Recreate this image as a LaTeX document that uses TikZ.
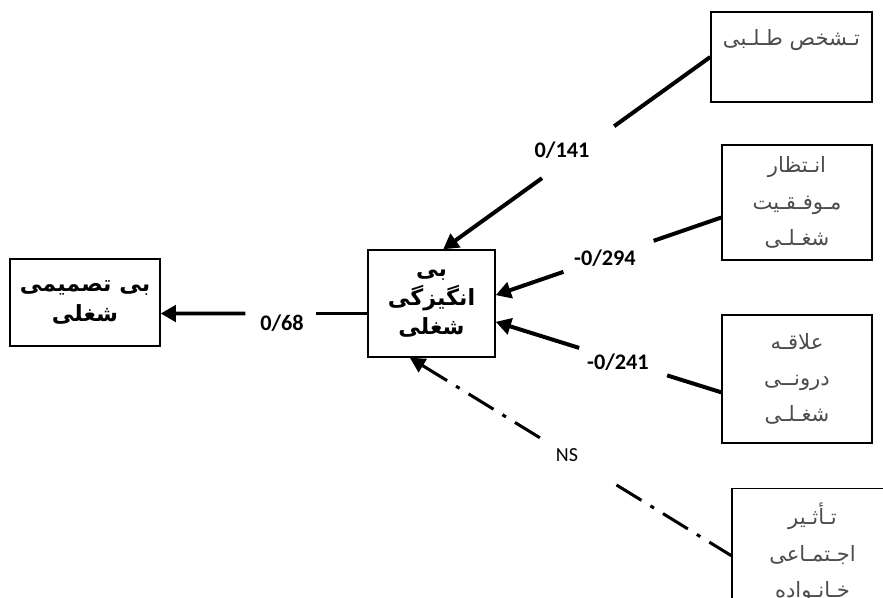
\documentclass[tikz,border=0pt]{standalone}
\usepackage{fontspec}
\setmainfont{Carlito}
\newfontfamily\farsi[Script=Arabic]{DejaVu Sans}
\usetikzlibrary{arrows.meta,calc}
\TeXXeTstate=1
\newcommand{\rtl}[1]{\beginR #1\endR}

\begin{document}
\begin{tikzpicture}[x=0.03cm,y=-0.03cm,
    main/.style={draw=black,rectangle,line width=1.2pt,align=center,font=\farsi\bfseries\fontsize{19}{25}\selectfont},
    sbox/.style={draw=black,rectangle,line width=1.2pt,minimum width=4.5cm},
    stxt/.style={align=center,text=black!70,font=\farsi\fontsize{18}{31}\selectfont},
    side/.style={sbox,stxt},
    val/.style={font=\bfseries\fontsize{19}{22}\selectfont},
    wire/.style={line width=3.4pt},
    arr/.style={wire,-{Triangle[length=13pt,width=14pt]}},
    ns/.style={line width=2.6pt,dash pattern=on 25pt off 9pt on 3.5pt off 9pt}
  ]
  \clip (0,0) rectangle (883,598);
  \fill[white] (0,0) rectangle (883,598);

  \node[main,minimum width=4.5cm,minimum height=2.61cm] (left) at (85,302.5) {\rtl{بی تصمیمی}\\\rtl{شغلی}};
  \node[main,minimum width=3.81cm,minimum height=3.21cm] (mid) at (431.5,303.5) {\rtl{بی}\\\rtl{انگیزگی}\\\rtl{شغلی}};

  \node[sbox,minimum width=4.83cm,minimum height=2.7cm] (t1) at (791.5,57) {};
  \node[stxt] (t1txt) at (791.5,40) {\rtl{تـشخص طـلـبی}};
  \node[side,minimum height=3.45cm] (t2) at (797,202.5) {\rtl{انـتظار}\\\rtl{مـوفـقـیت}\\\rtl{شغـلـی}};
  \node[side,minimum height=3.84cm] (t3) at (797,379) {\rtl{علاقـه}\\\rtl{درونــی}\\\rtl{شغـلـی}};
  \node[side,minimum width=4.83cm,minimum height=3.87cm] (t4) at (812.5,553) {\rtl{تـأثـیر}\\\rtl{اجـتمـاعی}\\\rtl{خـانـواده}};

  \coordinate (a1) at ([yshift=-0.3cm]mid.west);
  \coordinate (b1) at (left.east |- a1);
  \coordinate (a2) at (t1.west);
  \coordinate (b2) at ([xshift=0.35cm]mid.north);
  \coordinate (a3) at ([yshift=-0.45cm]t2.west);
  \coordinate (b3) at ([yshift=0.25cm]mid.east);
  \coordinate (a4) at ([yshift=-0.4cm]t3.west);
  \coordinate (b4) at ([yshift=-0.55cm]mid.east);
  \coordinate (a5) at ([yshift=-0.08cm]t4.west);
  \coordinate (b5) at ([xshift=-0.65cm]mid.south);

  \draw[wire] (a1) -- ($(a1)!0.25!(b1)$);
  \draw[arr] ($(a1)!0.59!(b1)$) -- (b1);
  \draw[wire] (a2) -- ($(a2)!0.36!(b2)$);
  \draw[arr] ($(a2)!0.63!(b2)$) -- (b2);
  \draw[wire] (a3) -- ($(a3)!0.30!(b3)$);
  \draw[arr] ($(a3)!0.70!(b3)$) -- (b3);
  \draw[wire] (a4) -- ($(a4)!0.24!(b4)$);
  \draw[arr] ($(a4)!0.63!(b4)$) -- (b4);
  \draw[ns,{Triangle[length=13pt,width=13pt]}-] (b5) -- ($(b5)!0.413!(a5)$);
  \draw[ns] ($(b5)!0.643!(a5)$) -- (a5);

  \node[val] (l68) at (282,323) {0/68};
  \node[val] (l141) at (562,150) {0/141};
  \node[val] (l294) at (605,258) {-0/294};
  \node[val] (l241) at (618,362) {-0/241};
  \node[font=\fontsize{17}{20}\selectfont] (lns) at (567,455) {NS};
\end{tikzpicture}
\end{document}
